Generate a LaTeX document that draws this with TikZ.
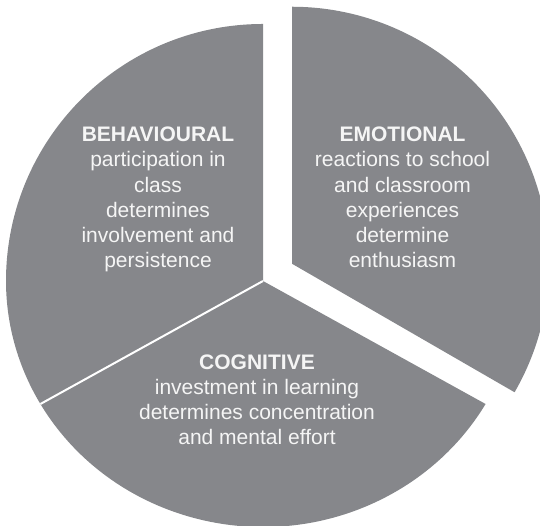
\documentclass[tikz,border=0pt]{standalone}
\usepackage{fontspec}
\setmainfont{Liberation Sans}
\definecolor{piegray}{RGB}{134,135,139}
\definecolor{pietext}{RGB}{245,245,245}
\begin{document}
\begin{tikzpicture}[x=1pt,y=1pt,
  sector/.style={fill=piegray, draw=none},
  separator/.style={draw=white, line width=2pt},
  blocktext/.style={text=pietext, align=center, inner sep=0pt,
    font=\fontsize{21}{25.3}\selectfont},
]
\useasboundingbox (0,0) rectangle (540,526);
\clip (0,0) rectangle (540,526);
\coordinate (C) at (263,245);
\coordinate (E) at (292,262.25);
% behavioural sector
\fill[sector] (C) -- ++(90:257) arc[start angle=90,end angle=180,radius=257]
  arc[start angle=180,end angle=210,x radius=257,y radius=246] -- cycle;
% cognitive sector
\path (C) ++(210:257 and 246) coordinate (B);
\fill[sector] (C) -- (B) arc[start angle=210,end angle=330,x radius=257,y radius=246] -- cycle;
% emotional sector (exploded)
\fill[sector] (E) -- ++(-30:257) arc[start angle=-30,end angle=90,radius=257] -- cycle;
% separator between behavioural and cognitive
\draw[separator] (C) -- (B);
% texts (base anchor = baseline of the last line)
\node[blocktext, anchor=base] (beh) at (158,258)
  {\textbf{BEHAVIOURAL}\\participation in\\class\\determines\\involvement and\\persistence};
\node[blocktext, anchor=base] (emo) at (402.5,258)
  {\textbf{EMOTIONAL}\\reactions to school\\and classroom\\experiences\\determine\\enthusiasm};
\node[blocktext, anchor=base] (cog) at (257,81)
  {\textbf{COGNITIVE}\\investment in learning\\determines concentration\\and mental effort};
\end{tikzpicture}
\end{document}
